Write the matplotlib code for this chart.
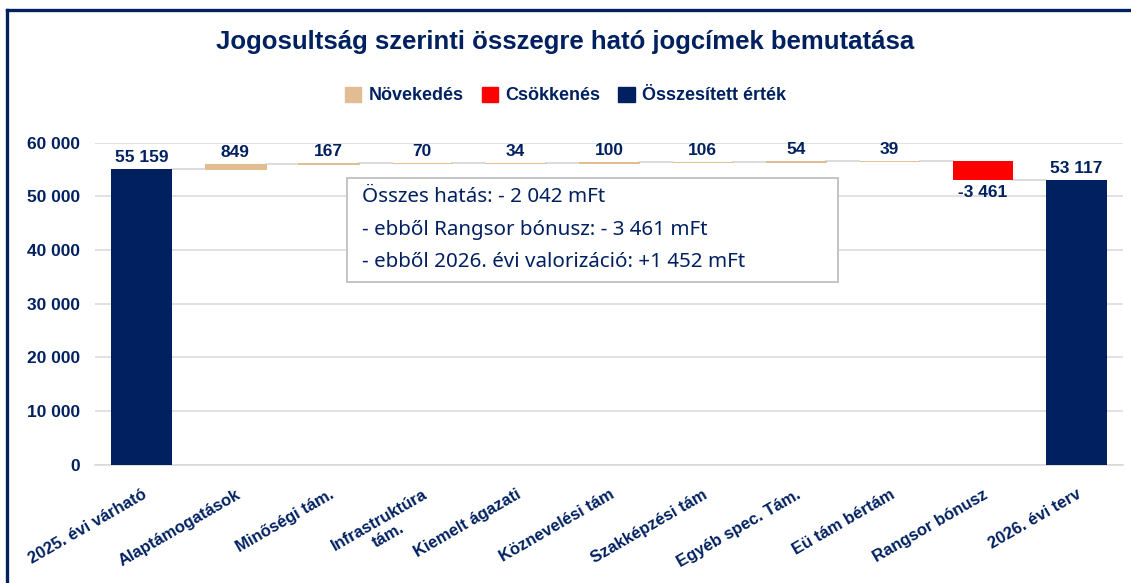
import matplotlib
matplotlib.use("Agg")
import matplotlib.pyplot as plt
import matplotlib.patches as mpatches
from matplotlib.lines import Line2D
import numpy as np

# data
categories = ["2025. évi várható", "Alaptámogatások", "Minőségi tám.", "Infrastruktúra\ntám.",
              "Kiemelt ágazati", "Köznevelési tám", "Szakképzési tám", "Egyéb spec. Tám.",
              "Eü tám bértám", "Rangsor bónusz", "2026. évi terv"]
start_value = 55159
changes = [849, 167, 70, 34, 100, 106, 54, 39, -3461]
end_value = 53117
y_ticks = [0, 10000, 20000, 30000, 40000, 50000, 60000]
legend_labels = ["Növekedés", "Csökkenés", "Összesített érték"]
box_lines = ["Összes hatás: - 2 042 mFt",
             "- ebből Rangsor bónusz: - 3 461 mFt",
             "- ebből 2026. évi valorizáció: +1 452 mFt"]

NAVY = "#002060"
TAN = "#E2BD93"
RED = "#FF0000"
GRID = "#D9D9D9"
BOLD = "Liberation Sans"

def fmt(v):
    s = f"{abs(v):,}".replace(",", " ")
    return ("-" if v < 0 else "") + s

def label(ax, xv, yv, txt, below=False):
    ax.annotate(txt, (xv, yv), xytext=(0, -4 if below else 3), textcoords="offset points",
                ha="center", va="top" if below else "bottom", fontsize=12.5,
                fontweight="bold", color=NAVY, family=BOLD, zorder=6)

fig = plt.figure(figsize=(11.31, 5.83), dpi=100)
ax = fig.add_axes([0.084, 0.203, 0.909, 0.552])

x = np.arange(len(categories))
w = 0.65

# start total
ax.bar(x[0], start_value, w, color=NAVY, zorder=3)
label(ax, x[0], start_value, fmt(start_value))

running = start_value
levels = [start_value]
for i, c in enumerate(changes, start=1):
    if c >= 0:
        ax.bar(x[i], c, w, bottom=running, color=TAN, edgecolor=TAN, lw=0.7, zorder=3)
        label(ax, x[i], running + c, fmt(c))
    else:
        ax.bar(x[i], -c, w, bottom=running + c, color=RED, zorder=3)
        label(ax, x[i], running + c, fmt(c), below=True)
    running += c
    levels.append(running)

ax.bar(x[-1], end_value, w, color=NAVY, zorder=3)
label(ax, x[-1], end_value, fmt(end_value))

# connectors
for i in range(len(categories) - 1):
    ax.plot([x[i] + w / 2, x[i + 1] - w / 2], [levels[i], levels[i]],
            color=GRID, lw=1.3, zorder=2)

ax.set_xlim(-0.5, len(categories) - 0.5)
ax.set_ylim(0, 60000)
ax.set_yticks(y_ticks)
ax.set_yticklabels([fmt(v) for v in y_ticks], fontsize=12.5, fontweight="bold",
                   color=NAVY, family=BOLD)
ax.yaxis.grid(True, color=GRID, lw=1.1, zorder=0)
ax.set_axisbelow(True)
for s in ["top", "right", "left"]:
    ax.spines[s].set_visible(False)
ax.spines["bottom"].set_color(GRID)
ax.spines["bottom"].set_linewidth(1.2)
ax.tick_params(axis="both", length=0)
ax.tick_params(axis="y", pad=11)
ax.set_xticks(x)
ax.set_xticklabels(categories, rotation=30, ha="right", va="top", rotation_mode="anchor",
                   fontsize=12, fontweight="bold", color=NAVY, family=BOLD,
                   multialignment="center")
ax.tick_params(axis="x", pad=16)

# text box (fixed size, like the spreadsheet text box)
ax.add_patch(mpatches.Rectangle((0.245, 0.568), 0.478, 0.323, transform=ax.transAxes,
                                facecolor="white", edgecolor="#BFBFBF", lw=1.3, zorder=5))
for t, yy in zip(box_lines, [0.832, 0.730, 0.630]):
    ax.text(0.2597, yy, t, transform=ax.transAxes, ha="left", va="center", fontsize=14.8,
            color=NAVY, family="Noto Sans", zorder=6)

# title and legend
fig.text(0.5, 0.928, "Jogosultság szerinti összegre ható jogcímek bemutatása", ha="center",
         va="center", fontsize=18.5, fontweight="bold", color=NAVY, family=BOLD)
handles = [mpatches.Patch(color=TAN), mpatches.Patch(color=RED), mpatches.Patch(color=NAVY)]
fig.legend(handles, legend_labels, loc="center", bbox_to_anchor=(0.5, 0.836), ncol=3,
           frameon=False, handlelength=0.9, handleheight=0.9, handletextpad=0.4,
           columnspacing=1.0, prop=dict(family=BOLD, weight="bold", size=13),
           labelcolor=NAVY)

# frame lines (left and top)
fig.add_artist(Line2D([0.0065, 0.0065], [0, 0.983], color=NAVY, lw=2.4, transform=fig.transFigure))
fig.add_artist(Line2D([0.0065, 1.0], [0.983, 0.983], color=NAVY, lw=2.4, transform=fig.transFigure))

fig.savefig("out.png", dpi=100)
